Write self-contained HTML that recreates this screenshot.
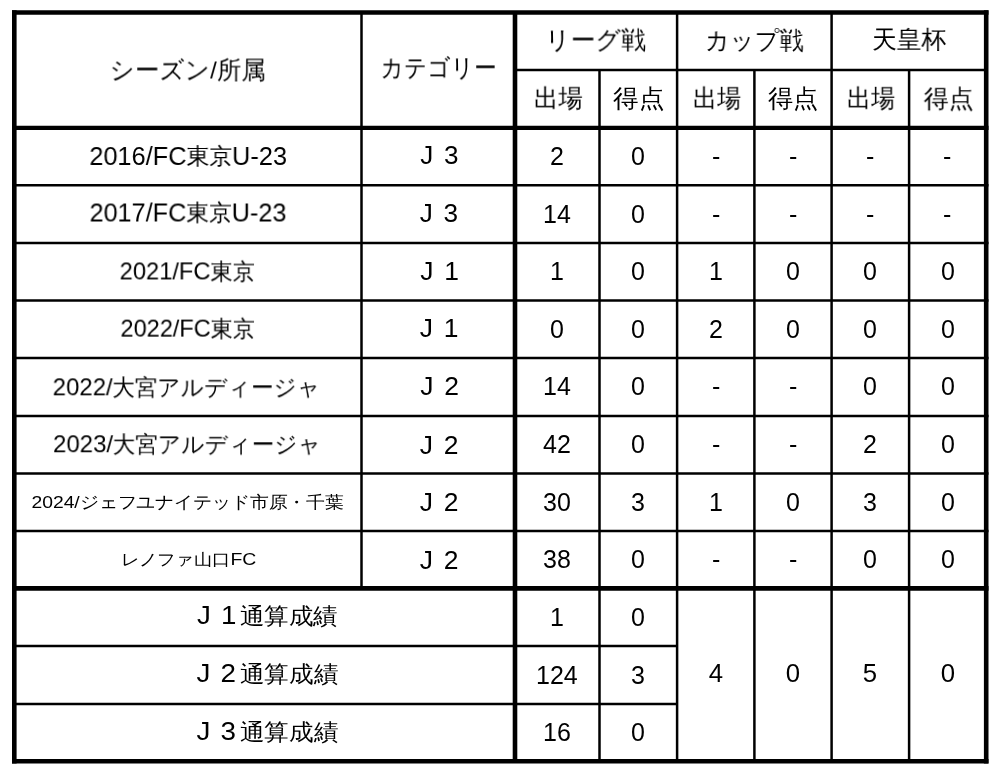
<!DOCTYPE html>
<html lang="ja"><head><meta charset="utf-8"><style>
html,body{margin:0;padding:0;background:#fff;width:1000px;height:773px;overflow:hidden}
body{position:relative;font-family:"Liberation Sans",sans-serif;color:#000}
svg{position:absolute;left:0;top:0}
.c{position:absolute;display:flex;align-items:center;justify-content:center;white-space:nowrap;line-height:1}
.t{display:flex;align-items:baseline;transform-origin:50% 50%;will-change:transform}
</style></head><body>
<svg width="1000" height="773" viewBox="0 0 1000 773"><g stroke="#000" fill="none">
<line x1="12.0" y1="12.5" x2="988.5" y2="12.5" stroke-width="4.6"/>
<line x1="12.0" y1="761.2" x2="988.5" y2="761.2" stroke-width="4.6"/>
<line x1="14.3" y1="10.2" x2="14.3" y2="763.5" stroke-width="4.6"/>
<line x1="986.2" y1="10.2" x2="986.2" y2="763.5" stroke-width="4.6"/>
<line x1="515" y1="70.1" x2="986.2" y2="70.1" stroke-width="2.5"/>
<line x1="12.0" y1="127.8" x2="988.5" y2="127.8" stroke-width="4.2"/>
<line x1="12.0" y1="185.3" x2="988.5" y2="185.3" stroke-width="2.5"/>
<line x1="12.0" y1="243.0" x2="988.5" y2="243.0" stroke-width="2.5"/>
<line x1="12.0" y1="300.5" x2="988.5" y2="300.5" stroke-width="2.5"/>
<line x1="12.0" y1="358.1" x2="988.5" y2="358.1" stroke-width="2.5"/>
<line x1="12.0" y1="415.9" x2="988.5" y2="415.9" stroke-width="2.5"/>
<line x1="12.0" y1="473.5" x2="988.5" y2="473.5" stroke-width="2.5"/>
<line x1="12.0" y1="530.9" x2="988.5" y2="530.9" stroke-width="2.5"/>
<line x1="12.0" y1="588.4" x2="988.5" y2="588.4" stroke-width="4.6"/>
<line x1="12.0" y1="646.1" x2="677.1" y2="646.1" stroke-width="2.5"/>
<line x1="12.0" y1="704.0" x2="677.1" y2="704.0" stroke-width="2.5"/>
<line x1="361.5" y1="12.5" x2="361.5" y2="588.4" stroke-width="2.5"/>
<line x1="515" y1="12.5" x2="515" y2="761.2" stroke-width="4.6"/>
<line x1="599.5" y1="70.1" x2="599.5" y2="761.2" stroke-width="2.5"/>
<line x1="754.4" y1="70.1" x2="754.4" y2="761.2" stroke-width="2.5"/>
<line x1="909.1" y1="70.1" x2="909.1" y2="761.2" stroke-width="2.5"/>
<line x1="677.1" y1="12.5" x2="677.1" y2="761.2" stroke-width="2.5"/>
<line x1="831.6" y1="12.5" x2="831.6" y2="761.2" stroke-width="2.5"/>
</g></svg>
<div class="c" style="left:14.3px;width:347.2px;top:12.5px;height:115.3px"><div class="t" style="transform:translate(-0.30px,0.50px) scaleX(0.9756)"><span style="font-size:24.5px;">シーズン/所属</span></div></div>
<div class="c" style="left:361.5px;width:153.5px;top:12.5px;height:115.3px"><div class="t" style="transform:translate(0.10px,-1.70px) scaleX(0.8991)"><span style="font-size:24.5px;">カテゴリー</span></div></div>
<div class="c" style="left:515px;width:162.1px;top:12.5px;height:57.6px"><div class="t" style="transform:translate(-0.50px,-0.50px) scaleX(0.9897)"><span style="font-size:24.5px;">リーグ戦</span></div></div>
<div class="c" style="left:677.1px;width:154.5px;top:12.5px;height:57.6px"><div class="t" style="transform:translate(-0.20px,0.00px) scaleX(0.9557)"><span style="font-size:24.5px;">カップ戦</span></div></div>
<div class="c" style="left:831.6px;width:154.6px;top:12.5px;height:57.6px"><div class="t" style="transform:translate(0.60px,-1.00px) scaleX(0.9847)"><span style="font-size:24.5px;">天皇杯</span></div></div>
<div class="c" style="left:515px;width:84.5px;top:70.1px;height:57.7px"><div class="t" style="transform:translate(1.40px,-0.30px) scaleX(0.9759)"><span style="font-size:24.5px;">出場</span></div></div>
<div class="c" style="left:599.5px;width:77.6px;top:70.1px;height:57.7px"><div class="t" style="transform:translate(0.70px,0.20px) scaleX(1.0226)"><span style="font-size:24.5px;">得点</span></div></div>
<div class="c" style="left:677.1px;width:77.3px;top:70.1px;height:57.7px"><div class="t" style="transform:translate(1.10px,-0.20px) scaleX(0.9631)"><span style="font-size:24.5px;">出場</span></div></div>
<div class="c" style="left:754.4px;width:77.2px;top:70.1px;height:57.7px"><div class="t" style="transform:translate(0.30px,-0.20px) scaleX(1.0074)"><span style="font-size:24.5px;">得点</span></div></div>
<div class="c" style="left:831.6px;width:77.5px;top:70.1px;height:57.7px"><div class="t" style="transform:translate(1.10px,-0.20px) scaleX(0.9631)"><span style="font-size:24.5px;">出場</span></div></div>
<div class="c" style="left:909.1px;width:77.1px;top:70.1px;height:57.7px"><div class="t" style="transform:translate(0.70px,0.20px) scaleX(0.9989)"><span style="font-size:24.5px;">得点</span></div></div>
<div class="c" style="left:14.3px;width:347.2px;top:127.8px;height:57.5px"><div class="t" style="transform:translate(0.60px,-1.00px) scaleX(0.9926)"><span style="font-size:25.5px;position:relative;top:0.8px">2016/FC</span><span style="font-size:23.0px;">東京</span><span style="font-size:25.5px;position:relative;top:0.8px">U-23</span></div></div>
<div class="c" style="left:361.5px;width:153.5px;top:127.8px;height:57.5px"><div class="t" style="transform:translate(1.40px,-0.60px) scaleX(1.0136)"><span style="font-size:25.7px;margin-right:10.6px">J</span><span style="font-size:25.7px;">3</span></div></div>
<div class="c" style="left:515px;width:84.5px;top:127.8px;height:57.5px"><div class="t"><span style="font-size:25.0px;">2</span></div></div>
<div class="c" style="left:599.5px;width:77.6px;top:127.8px;height:57.5px"><div class="t"><span style="font-size:25.0px;">0</span></div></div>
<div class="c" style="left:677.1px;width:77.3px;top:127.8px;height:57.5px"><div class="t"><span style="font-size:25.0px;">-</span></div></div>
<div class="c" style="left:754.4px;width:77.2px;top:127.8px;height:57.5px"><div class="t"><span style="font-size:25.0px;">-</span></div></div>
<div class="c" style="left:831.6px;width:77.5px;top:127.8px;height:57.5px"><div class="t"><span style="font-size:25.0px;">-</span></div></div>
<div class="c" style="left:909.1px;width:77.1px;top:127.8px;height:57.5px"><div class="t"><span style="font-size:25.0px;">-</span></div></div>
<div class="c" style="left:14.3px;width:347.2px;top:185.3px;height:57.7px"><div class="t" style="transform:translate(0.40px,-1.50px) scaleX(0.9885)"><span style="font-size:25.5px;position:relative;top:0.8px">2017/FC</span><span style="font-size:23.0px;">東京</span><span style="font-size:25.5px;position:relative;top:0.8px">U-23</span></div></div>
<div class="c" style="left:361.5px;width:153.5px;top:185.3px;height:57.7px"><div class="t" style="transform:translate(1.10px,-0.40px) scaleX(1.0191)"><span style="font-size:25.7px;margin-right:10.6px">J</span><span style="font-size:25.7px;">3</span></div></div>
<div class="c" style="left:515px;width:84.5px;top:185.3px;height:57.7px"><div class="t"><span style="font-size:25.0px;">14</span></div></div>
<div class="c" style="left:599.5px;width:77.6px;top:185.3px;height:57.7px"><div class="t"><span style="font-size:25.0px;">0</span></div></div>
<div class="c" style="left:677.1px;width:77.3px;top:185.3px;height:57.7px"><div class="t"><span style="font-size:25.0px;">-</span></div></div>
<div class="c" style="left:754.4px;width:77.2px;top:185.3px;height:57.7px"><div class="t"><span style="font-size:25.0px;">-</span></div></div>
<div class="c" style="left:831.6px;width:77.5px;top:185.3px;height:57.7px"><div class="t"><span style="font-size:25.0px;">-</span></div></div>
<div class="c" style="left:909.1px;width:77.1px;top:185.3px;height:57.7px"><div class="t"><span style="font-size:25.0px;">-</span></div></div>
<div class="c" style="left:14.3px;width:347.2px;top:243.0px;height:57.5px"><div class="t" style="transform:translate(-0.70px,-0.60px) scaleX(0.9668)"><span style="font-size:24.5px;">2021/FC</span><span style="font-size:23.0px;">東京</span></div></div>
<div class="c" style="left:361.5px;width:153.5px;top:243.0px;height:57.5px"><div class="t" style="transform:translate(1.70px,-0.20px) scaleX(1.0293)"><span style="font-size:25.7px;margin-right:10.6px">J</span><span style="font-size:25.7px;">1</span></div></div>
<div class="c" style="left:515px;width:84.5px;top:243.0px;height:57.5px"><div class="t"><span style="font-size:25.0px;">1</span></div></div>
<div class="c" style="left:599.5px;width:77.6px;top:243.0px;height:57.5px"><div class="t"><span style="font-size:25.0px;">0</span></div></div>
<div class="c" style="left:677.1px;width:77.3px;top:243.0px;height:57.5px"><div class="t"><span style="font-size:25.0px;">1</span></div></div>
<div class="c" style="left:754.4px;width:77.2px;top:243.0px;height:57.5px"><div class="t"><span style="font-size:25.0px;">0</span></div></div>
<div class="c" style="left:831.6px;width:77.5px;top:243.0px;height:57.5px"><div class="t"><span style="font-size:25.0px;">0</span></div></div>
<div class="c" style="left:909.1px;width:77.1px;top:243.0px;height:57.5px"><div class="t"><span style="font-size:25.0px;">0</span></div></div>
<div class="c" style="left:14.3px;width:347.2px;top:300.5px;height:57.6px"><div class="t" style="transform:translate(-0.30px,-0.40px) scaleX(0.9609)"><span style="font-size:24.5px;">2022/FC</span><span style="font-size:23.0px;">東京</span></div></div>
<div class="c" style="left:361.5px;width:153.5px;top:300.5px;height:57.6px"><div class="t" style="transform:translate(1.30px,-0.30px) scaleX(1.0293)"><span style="font-size:25.7px;margin-right:10.6px">J</span><span style="font-size:25.7px;">1</span></div></div>
<div class="c" style="left:515px;width:84.5px;top:300.5px;height:57.6px"><div class="t"><span style="font-size:25.0px;">0</span></div></div>
<div class="c" style="left:599.5px;width:77.6px;top:300.5px;height:57.6px"><div class="t"><span style="font-size:25.0px;">0</span></div></div>
<div class="c" style="left:677.1px;width:77.3px;top:300.5px;height:57.6px"><div class="t"><span style="font-size:25.0px;">2</span></div></div>
<div class="c" style="left:754.4px;width:77.2px;top:300.5px;height:57.6px"><div class="t"><span style="font-size:25.0px;">0</span></div></div>
<div class="c" style="left:831.6px;width:77.5px;top:300.5px;height:57.6px"><div class="t"><span style="font-size:25.0px;">0</span></div></div>
<div class="c" style="left:909.1px;width:77.1px;top:300.5px;height:57.6px"><div class="t"><span style="font-size:25.0px;">0</span></div></div>
<div class="c" style="left:14.3px;width:347.2px;top:358.1px;height:57.8px"><div class="t" style="transform:translate(-1.40px,0.30px) scaleX(0.9777)"><span style="font-size:24.5px;">2022/</span><span style="font-size:23.0px;">大宮アルディージャ</span></div></div>
<div class="c" style="left:361.5px;width:153.5px;top:358.1px;height:57.8px"><div class="t" style="transform:translate(1.70px,0.20px) scaleX(1.0300)"><span style="font-size:25.7px;margin-right:10.6px">J</span><span style="font-size:25.7px;">2</span></div></div>
<div class="c" style="left:515px;width:84.5px;top:358.1px;height:57.8px"><div class="t"><span style="font-size:25.0px;">14</span></div></div>
<div class="c" style="left:599.5px;width:77.6px;top:358.1px;height:57.8px"><div class="t"><span style="font-size:25.0px;">0</span></div></div>
<div class="c" style="left:677.1px;width:77.3px;top:358.1px;height:57.8px"><div class="t"><span style="font-size:25.0px;">-</span></div></div>
<div class="c" style="left:754.4px;width:77.2px;top:358.1px;height:57.8px"><div class="t"><span style="font-size:25.0px;">-</span></div></div>
<div class="c" style="left:831.6px;width:77.5px;top:358.1px;height:57.8px"><div class="t"><span style="font-size:25.0px;">0</span></div></div>
<div class="c" style="left:909.1px;width:77.1px;top:358.1px;height:57.8px"><div class="t"><span style="font-size:25.0px;">0</span></div></div>
<div class="c" style="left:14.3px;width:347.2px;top:415.9px;height:57.6px"><div class="t" style="transform:translate(-0.85px,0.20px) scaleX(0.9795)"><span style="font-size:24.5px;">2023/</span><span style="font-size:23.0px;">大宮アルディージャ</span></div></div>
<div class="c" style="left:361.5px;width:153.5px;top:415.9px;height:57.6px"><div class="t" style="transform:translate(1.30px,0.80px) scaleX(1.0300)"><span style="font-size:25.7px;margin-right:10.6px">J</span><span style="font-size:25.7px;">2</span></div></div>
<div class="c" style="left:515px;width:84.5px;top:415.9px;height:57.6px"><div class="t"><span style="font-size:25.0px;">42</span></div></div>
<div class="c" style="left:599.5px;width:77.6px;top:415.9px;height:57.6px"><div class="t"><span style="font-size:25.0px;">0</span></div></div>
<div class="c" style="left:677.1px;width:77.3px;top:415.9px;height:57.6px"><div class="t"><span style="font-size:25.0px;">-</span></div></div>
<div class="c" style="left:754.4px;width:77.2px;top:415.9px;height:57.6px"><div class="t"><span style="font-size:25.0px;">-</span></div></div>
<div class="c" style="left:831.6px;width:77.5px;top:415.9px;height:57.6px"><div class="t"><span style="font-size:25.0px;">2</span></div></div>
<div class="c" style="left:909.1px;width:77.1px;top:415.9px;height:57.6px"><div class="t"><span style="font-size:25.0px;">0</span></div></div>
<div class="c" style="left:14.3px;width:347.2px;top:473.5px;height:57.4px"><div class="t" style="transform:translate(-0.05px,1.10px) scaleX(1.1104)"><span style="font-size:17.4px;">2024/</span><span style="font-size:17.0px;">ジェフユナイテッド市原・千葉</span></div></div>
<div class="c" style="left:361.5px;width:153.5px;top:473.5px;height:57.4px"><div class="t" style="transform:translate(1.30px,0.80px) scaleX(1.0300)"><span style="font-size:25.7px;margin-right:10.6px">J</span><span style="font-size:25.7px;">2</span></div></div>
<div class="c" style="left:515px;width:84.5px;top:473.5px;height:57.4px"><div class="t"><span style="font-size:25.0px;">30</span></div></div>
<div class="c" style="left:599.5px;width:77.6px;top:473.5px;height:57.4px"><div class="t"><span style="font-size:25.0px;">3</span></div></div>
<div class="c" style="left:677.1px;width:77.3px;top:473.5px;height:57.4px"><div class="t"><span style="font-size:25.0px;">1</span></div></div>
<div class="c" style="left:754.4px;width:77.2px;top:473.5px;height:57.4px"><div class="t"><span style="font-size:25.0px;">0</span></div></div>
<div class="c" style="left:831.6px;width:77.5px;top:473.5px;height:57.4px"><div class="t"><span style="font-size:25.0px;">3</span></div></div>
<div class="c" style="left:909.1px;width:77.1px;top:473.5px;height:57.4px"><div class="t"><span style="font-size:25.0px;">0</span></div></div>
<div class="c" style="left:14.3px;width:347.2px;top:530.9px;height:57.5px"><div class="t" style="transform:translate(0.10px,0.00px) scaleX(1.1447)"><span style="font-size:16.3px;">レノファ山口</span><span style="font-size:17.0px;">FC</span></div></div>
<div class="c" style="left:361.5px;width:153.5px;top:530.9px;height:57.5px"><div class="t" style="transform:translate(1.30px,0.80px) scaleX(1.0300)"><span style="font-size:25.7px;margin-right:10.6px">J</span><span style="font-size:25.7px;">2</span></div></div>
<div class="c" style="left:515px;width:84.5px;top:530.9px;height:57.5px"><div class="t"><span style="font-size:25.0px;">38</span></div></div>
<div class="c" style="left:599.5px;width:77.6px;top:530.9px;height:57.5px"><div class="t"><span style="font-size:25.0px;">0</span></div></div>
<div class="c" style="left:677.1px;width:77.3px;top:530.9px;height:57.5px"><div class="t"><span style="font-size:25.0px;">-</span></div></div>
<div class="c" style="left:754.4px;width:77.2px;top:530.9px;height:57.5px"><div class="t"><span style="font-size:25.0px;">-</span></div></div>
<div class="c" style="left:831.6px;width:77.5px;top:530.9px;height:57.5px"><div class="t"><span style="font-size:25.0px;">0</span></div></div>
<div class="c" style="left:909.1px;width:77.1px;top:530.9px;height:57.5px"><div class="t"><span style="font-size:25.0px;">0</span></div></div>
<div class="c" style="left:14.3px;width:500.7px;top:588.4px;height:57.7px"><div class="t" style="transform:translate(3.20px,-2.00px) scaleX(1.0645)"><span style="font-size:26.0px;margin-right:9.5px">J</span><span style="font-size:26.0px;margin-right:3.5px">1</span><span style="font-size:23.0px;">通算成績</span></div></div>
<div class="c" style="left:515px;width:84.5px;top:588.4px;height:57.7px"><div class="t"><span style="font-size:25.0px;">1</span></div></div>
<div class="c" style="left:599.5px;width:77.6px;top:588.4px;height:57.7px"><div class="t"><span style="font-size:25.0px;">0</span></div></div>
<div class="c" style="left:14.3px;width:500.7px;top:646.1px;height:57.9px"><div class="t" style="transform:translate(3.05px,-2.00px) scaleX(1.0698)"><span style="font-size:26.0px;margin-right:9.5px">J</span><span style="font-size:26.0px;margin-right:3.5px">2</span><span style="font-size:23.0px;">通算成績</span></div></div>
<div class="c" style="left:515px;width:84.5px;top:646.1px;height:57.9px"><div class="t"><span style="font-size:25.0px;">124</span></div></div>
<div class="c" style="left:599.5px;width:77.6px;top:646.1px;height:57.9px"><div class="t"><span style="font-size:25.0px;">3</span></div></div>
<div class="c" style="left:14.3px;width:500.7px;top:704.0px;height:57.2px"><div class="t" style="transform:translate(3.05px,-2.00px) scaleX(1.0698)"><span style="font-size:26.0px;margin-right:9.5px">J</span><span style="font-size:26.0px;margin-right:3.5px">3</span><span style="font-size:23.0px;">通算成績</span></div></div>
<div class="c" style="left:515px;width:84.5px;top:704.0px;height:57.2px"><div class="t"><span style="font-size:25.0px;">16</span></div></div>
<div class="c" style="left:599.5px;width:77.6px;top:704.0px;height:57.2px"><div class="t"><span style="font-size:25.0px;">0</span></div></div>
<div class="c" style="left:677.1px;width:77.3px;top:588.4px;height:172.8px"><div class="t" style="transform:translate(-0.10px,-0.80px) scaleX(1.0304)"><span style="font-size:25.0px;">4</span></div></div>
<div class="c" style="left:754.4px;width:77.2px;top:588.4px;height:172.8px"><div class="t" style="transform:translate(-0.10px,-0.80px) scaleX(1.0304)"><span style="font-size:25.0px;">0</span></div></div>
<div class="c" style="left:831.6px;width:77.5px;top:588.4px;height:172.8px"><div class="t" style="transform:translate(-0.10px,-0.80px) scaleX(1.0304)"><span style="font-size:25.0px;">5</span></div></div>
<div class="c" style="left:909.1px;width:77.1px;top:588.4px;height:172.8px"><div class="t" style="transform:translate(-0.10px,-0.80px) scaleX(1.0304)"><span style="font-size:25.0px;">0</span></div></div>
</body></html>
